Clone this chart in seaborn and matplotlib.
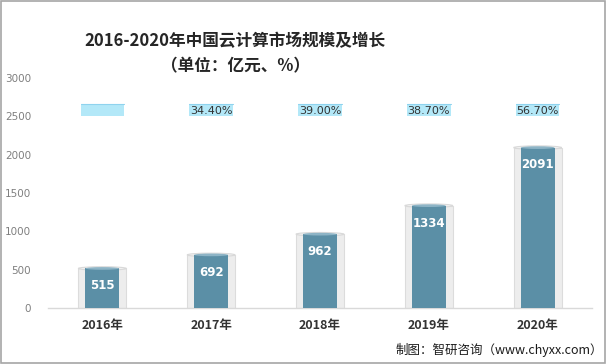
import matplotlib
matplotlib.use("Agg")
import matplotlib.pyplot as plt
import matplotlib.patches as mpatches
import matplotlib.transforms as mtrans
import seaborn as sns
import pandas as pd

years = ["2016年", "2017年", "2018年", "2019年", "2020年"]
market_size = [515, 692, 962, 1334, 2091]
growth_labels = ["", "34.40%", "39.00%", "38.70%", "56.70%"]
y_ticks = [0, 500, 1000, 1500, 2000, 2500, 3000]
title = "2016-2020年中国云计算市场规模及增长\n（单位：亿元、%）"
source = "制图：智研咨询（www.chyxx.com）"

sns.set_theme(style="white")
plt.rcParams['font.family'] = ['Noto Sans CJK SC', 'DejaVu Sans']

df = pd.DataFrame({"year": years, "size": market_size})

fig = plt.figure(figsize=(6.06, 3.64), dpi=100)
ax = fig.add_axes([0.079, 0.154, 0.898, 0.632])

# outer translucent cylinder
sns.barplot(data=df, x="year", y="size", ax=ax, color="#EDEDED", width=0.44,
            edgecolor="#DCDCDC", linewidth=0.8, saturation=1, zorder=2)
# inner blue cylinder
sns.barplot(data=df, x="year", y="size", ax=ax, color="#5B8FA6", width=0.31,
            saturation=1, linewidth=0, zorder=3)

# cylinder tops / bottoms as ellipses
for i, v in enumerate(market_size):
    ax.add_patch(mpatches.Ellipse((i, v), 0.44, 45, facecolor="#F2F2F2",
                                  edgecolor="#D9D9D9", linewidth=0.8, zorder=2.5))
    ax.add_patch(mpatches.Ellipse((i, v), 0.31, 35, facecolor="#8DB4C6",
                                  edgecolor="none", zorder=3.5))
    ax.add_patch(mpatches.Ellipse((i, 0), 0.31, 35, facecolor="#5B8FA6",
                                  edgecolor="none", zorder=3.5))
    ax.annotate(str(v), (i, v), xytext=(0, -12.5), textcoords="offset points",
                ha="center", va="center", color="white", fontsize=8.5,
                fontweight="bold", family=["DejaVu Sans"], zorder=5)

# growth-rate label boxes
trans = mtrans.blended_transform_factory(ax.transData, ax.transAxes)
for i, g in enumerate(growth_labels):
    ax.add_patch(mpatches.Rectangle((i - 0.2, 0.835), 0.4, 0.052,
                                    transform=trans, facecolor="#B3E8F8",
                                    edgecolor="none", zorder=4, clip_on=False))
    ax.plot([i - 0.2, i + 0.2], [0.887, 0.887], transform=trans,
            color="#8FD3EE", linewidth=0.8, zorder=4.5, clip_on=False)
    if g:
        ax.text(i, 0.855, g, transform=trans, ha="center", va="center",
                fontsize=8, color="#333333", family=["DejaVu Sans"], zorder=5)

ax.set_ylim(0, 3000)
ax.set_xlim(-0.5, 4.5)
ax.set_yticks(y_ticks)
ax.set_yticklabels([str(t) for t in y_ticks], fontsize=7.5, color="#7F7F7F",
                   family=["DejaVu Sans"])
ax.tick_params(axis="y", length=0, pad=12)
ax.tick_params(axis="x", length=0, pad=8)
for lab in ax.get_xticklabels():
    lab.set_fontsize(9)
    lab.set_fontweight("bold")
    lab.set_color("#333333")
ax.set_xlabel("")
ax.set_ylabel("")
for s in ["top", "right", "left"]:
    ax.spines[s].set_visible(False)
ax.spines["bottom"].set_color("#D9D9D9")
ax.spines["bottom"].set_linewidth(1)
ax.grid(False)

fig.text(0.388, 0.852, title, ha="center", va="center", fontsize=12,
         fontweight="bold", color="#262626", linespacing=1.55)
fig.text(0.995, 0.038, source, ha="right", va="center", fontsize=9,
         color="#1a1a1a")

fig.patches.append(mpatches.Rectangle((0.001, 0.002), 0.997, 0.995,
                                      transform=fig.transFigure, fill=False,
                                      edgecolor="#A6A6A6", linewidth=1.2))

fig.savefig("out.png", dpi=100)
